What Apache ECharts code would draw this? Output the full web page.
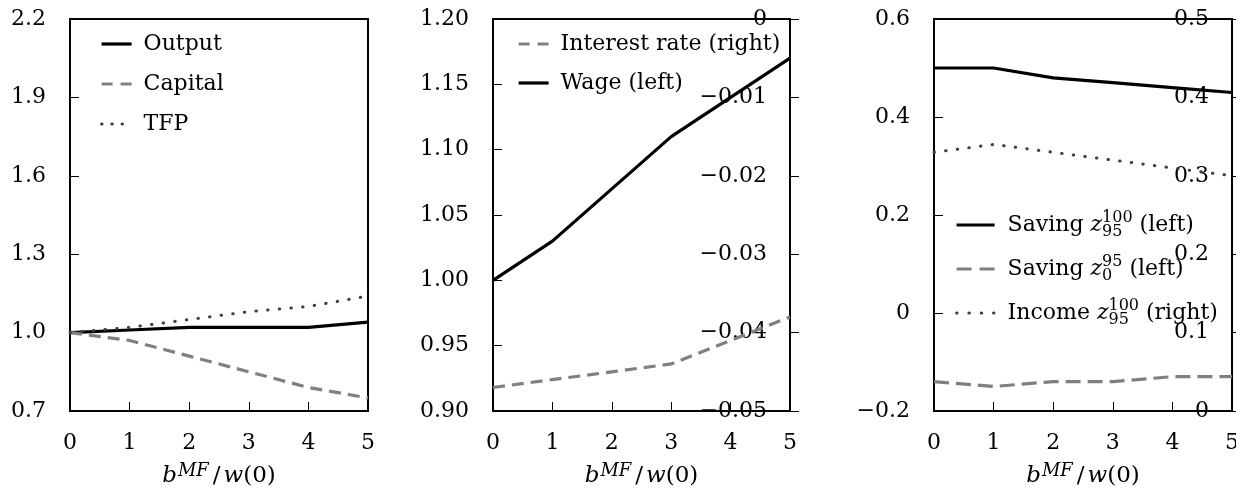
<!DOCTYPE html>
<html>
<head>
<meta charset="utf-8">
<script src="https://cdn.jsdelivr.net/npm/echarts@6/dist/echarts.min.js"></script>
<style>
  html, body { margin: 0; padding: 0; background: #fff; }
  #chart { width: 1236px; height: 491px; }
</style>
</head>
<body>
<div id="chart"></div>
<script>
// x positions, shared by the three panels
const xValues = [0, 1, 2, 3, 4, 5]

// panel 1
const output = [1.00, 1.01, 1.02, 1.02, 1.02, 1.04]
const capital = [1.00, 0.97, 0.91, 0.85, 0.79, 0.75]
const tfp = [1.00, 1.02, 1.05, 1.08, 1.10, 1.14]
const ticks1 = [0.7, 1.0, 1.3, 1.6, 1.9, 2.2]

// panel 2
const interestRate = [-0.047, -0.046, -0.045, -0.044, -0.041, -0.038]
const wage = [1.00, 1.03, 1.07, 1.11, 1.14, 1.17]
const ticks2Left = [0.90, 0.95, 1.00, 1.05, 1.10, 1.15, 1.20]
const ticks2Right = [-0.05, -0.04, -0.03, -0.02, -0.01, 0]

// panel 3
const savingTop = [0.50, 0.50, 0.48, 0.47, 0.46, 0.45]
const savingBottom = [-0.14, -0.15, -0.14, -0.14, -0.13, -0.13]
const incomeTop = [0.33, 0.34, 0.33, 0.32, 0.31, 0.30]
const ticks3Left = [-0.2, 0, 0.2, 0.4, 0.6]
const ticks3Right = [0, 0.1, 0.2, 0.3, 0.4, 0.5]

const FONT = 'DejaVu Serif'
const GREY = '#808080'
const DOT = '#404040'

const pairs = ys => ys.map((y, i) => [xValues[i], y])
const fmt = d => v => (Math.abs(v) < 1e-9 ? '0' : v.toFixed(d).replace('-', '\u2212'))

const chart = echarts.init(document.getElementById('chart'))

const solid = { color: '#000', width: 3.2 }
const dashed = { color: GREY, width: 3.2, type: [12, 7] }
const dashedWide = { color: GREY, width: 3.2, type: [15, 7] }
const dotted = { color: DOT, width: 3, type: [0.5, 11.2], cap: 'round' }

// legend samples are a little shorter than in the plot
const legSolid = { color: '#000', width: 3.2, type: 'solid' }
const legDashed = { color: GREY, width: 3.2, type: [11, 8] }
const legDashedWide = { color: GREY, width: 3.2, type: [15, 8] }
const legDotted = { color: DOT, width: 3, type: [0.5, 9.7], cap: 'round' }
const legDottedWide = { color: DOT, width: 3, type: [0.5, 11.8], cap: 'round' }

const xAxisFor = idx => ({
  gridIndex: idx,
  type: 'value',
  min: 0,
  max: 5,
  interval: 1,
  axisLine: { show: false, onZero: false },
  axisTick: { inside: true, length: 9, lineStyle: { color: '#000', width: 1 } },
  axisLabel: { color: '#000', fontFamily: FONT, fontSize: 22, margin: 21 },
  splitLine: { show: false },
  name: '{i|b}{s|MF}{sl|/}{i|w}{n|(0)}',
  nameLocation: 'middle',
  nameGap: 51,
  nameTextStyle: {
    color: '#000',
    fontFamily: FONT,
    fontSize: 22,
    rich: {
      i: { fontFamily: FONT, fontSize: 23, fontStyle: 'italic', color: '#000', lineHeight: 28 },
      s: { fontFamily: FONT, fontSize: 18, fontStyle: 'italic', color: '#000', verticalAlign: 'top', lineHeight: 14, padding: [0, 2, 0, 1] },
      sl: { fontFamily: FONT, fontSize: 23, color: '#000', lineHeight: 28, padding: [0, 3, 0, 2] },
      n: { fontFamily: FONT, fontSize: 23, color: '#000', lineHeight: 28 }
    }
  }
})

const yAxisFor = (idx, min, max, ticks, dec, right) => ({
  gridIndex: idx,
  type: 'value',
  position: right ? 'right' : 'left',
  min,
  max,
  axisLine: { show: false, onZero: false },
  axisTick: {
    inside: !right,
    length: 9,
    customValues: ticks,
    lineStyle: { color: '#000', width: 1 }
  },
  axisLabel: {
    customValues: ticks,
    inside: !!right,
    margin: right ? 23 : 24,
    color: '#000',
    fontFamily: FONT,
    fontSize: 22,
    formatter: fmt(dec)
  },
  splitLine: { show: false }
})

const rich3 = {
  t: { fontFamily: FONT, fontSize: 22, color: '#000', lineHeight: 30, verticalAlign: 'middle' },
  i: { fontFamily: FONT, fontSize: 22, fontStyle: 'italic', color: '#000', lineHeight: 30, verticalAlign: 'middle' },
  up: { fontFamily: FONT, fontSize: 16, color: '#000', lineHeight: 18, verticalAlign: 'top' },
  dn: { fontFamily: FONT, fontSize: 16, color: '#000', lineHeight: 17, verticalAlign: 'bottom', width: 0 }
}
const legend3Text = {
  'Saving top (left)': '{t|Saving }{i|z}{dn|95}{up|100}{t| (left)}',
  'Saving bottom (left)': '{t|Saving }{i|z}{dn|0}{up|95}{t| (left)}',
  'Income top (right)': '{t|Income }{i|z}{dn|95}{up|100}{t| (right)}'
}

const legendBase = {
  orient: 'vertical',
  selectedMode: false,
  padding: 0,
  itemWidth: 30,
  itemHeight: 14,
  itemStyle: { opacity: 0 },
  textStyle: { color: '#000', fontFamily: FONT, fontSize: 22, lineHeight: 26, padding: [0, 0, 0, 7] }
}

const grid = (left, width) => ({
  left, top: 19, width, height: 392,
  show: true, borderColor: '#000', borderWidth: 2, outerBoundsMode: 'none'
})

chart.setOption({
  animation: false,
  backgroundColor: '#fff',
  grid: [grid(70, 298), grid(493, 297), grid(934, 298)],
  xAxis: [xAxisFor(0), xAxisFor(1), xAxisFor(2)],
  yAxis: [
    yAxisFor(0, 0.7, 2.2, ticks1, 1, false),
    yAxisFor(1, 0.9, 1.2, ticks2Left, 2, false),
    yAxisFor(1, -0.05, 0, ticks2Right, 2, true),
    yAxisFor(2, -0.2, 0.6, ticks3Left, 1, false),
    yAxisFor(2, 0, 0.5, ticks3Right, 1, true)
  ],
  legend: [
    Object.assign({}, legendBase, {
      left: 100, top: 31, itemGap: 14,
      data: [
        { name: 'Output', lineStyle: legSolid },
        { name: 'Capital', lineStyle: legDashed },
        { name: 'TFP', lineStyle: legDotted }
      ]
    }),
    Object.assign({}, legendBase, {
      left: 517, top: 31, itemGap: 13,
      data: [
        { name: 'Interest rate (right)', lineStyle: legDashed },
        { name: 'Wage (left)', lineStyle: legSolid }
      ]
    }),
    Object.assign({}, legendBase, {
      left: 955, top: 210, itemGap: 14, itemWidth: 38,
      data: [
        { name: 'Saving top (left)', lineStyle: legSolid },
        { name: 'Saving bottom (left)', lineStyle: legDashedWide },
        { name: 'Income top (right)', lineStyle: legDottedWide }
      ],
      formatter: name => legend3Text[name],
      textStyle: { color: '#000', fontFamily: FONT, fontSize: 22, padding: [0, 0, 0, 8], rich: rich3 }
    })
  ],
  series: [
    { name: 'Output', type: 'line', xAxisIndex: 0, yAxisIndex: 0, data: pairs(output), symbol: 'none', lineStyle: solid, itemStyle: { color: '#000' } },
    { name: 'Capital', type: 'line', xAxisIndex: 0, yAxisIndex: 0, data: pairs(capital), symbol: 'none', lineStyle: dashed, itemStyle: { color: GREY } },
    { name: 'TFP', type: 'line', xAxisIndex: 0, yAxisIndex: 0, data: pairs(tfp), symbol: 'none', lineStyle: dotted, itemStyle: { color: DOT } },

    { name: 'Interest rate (right)', type: 'line', xAxisIndex: 1, yAxisIndex: 2, data: pairs(interestRate), symbol: 'none', lineStyle: dashed, itemStyle: { color: GREY } },
    { name: 'Wage (left)', type: 'line', xAxisIndex: 1, yAxisIndex: 1, data: pairs(wage), symbol: 'none', lineStyle: solid, itemStyle: { color: '#000' } },

    { name: 'Saving top (left)', type: 'line', xAxisIndex: 2, yAxisIndex: 3, data: pairs(savingTop), symbol: 'none', lineStyle: solid, itemStyle: { color: '#000' } },
    { name: 'Saving bottom (left)', type: 'line', xAxisIndex: 2, yAxisIndex: 3, data: pairs(savingBottom), symbol: 'none', lineStyle: dashedWide, itemStyle: { color: GREY } },
    { name: 'Income top (right)', type: 'line', xAxisIndex: 2, yAxisIndex: 4, data: pairs(incomeTop), symbol: 'none', lineStyle: dotted, itemStyle: { color: DOT } }
  ]
})
</script>
</body>
</html>
